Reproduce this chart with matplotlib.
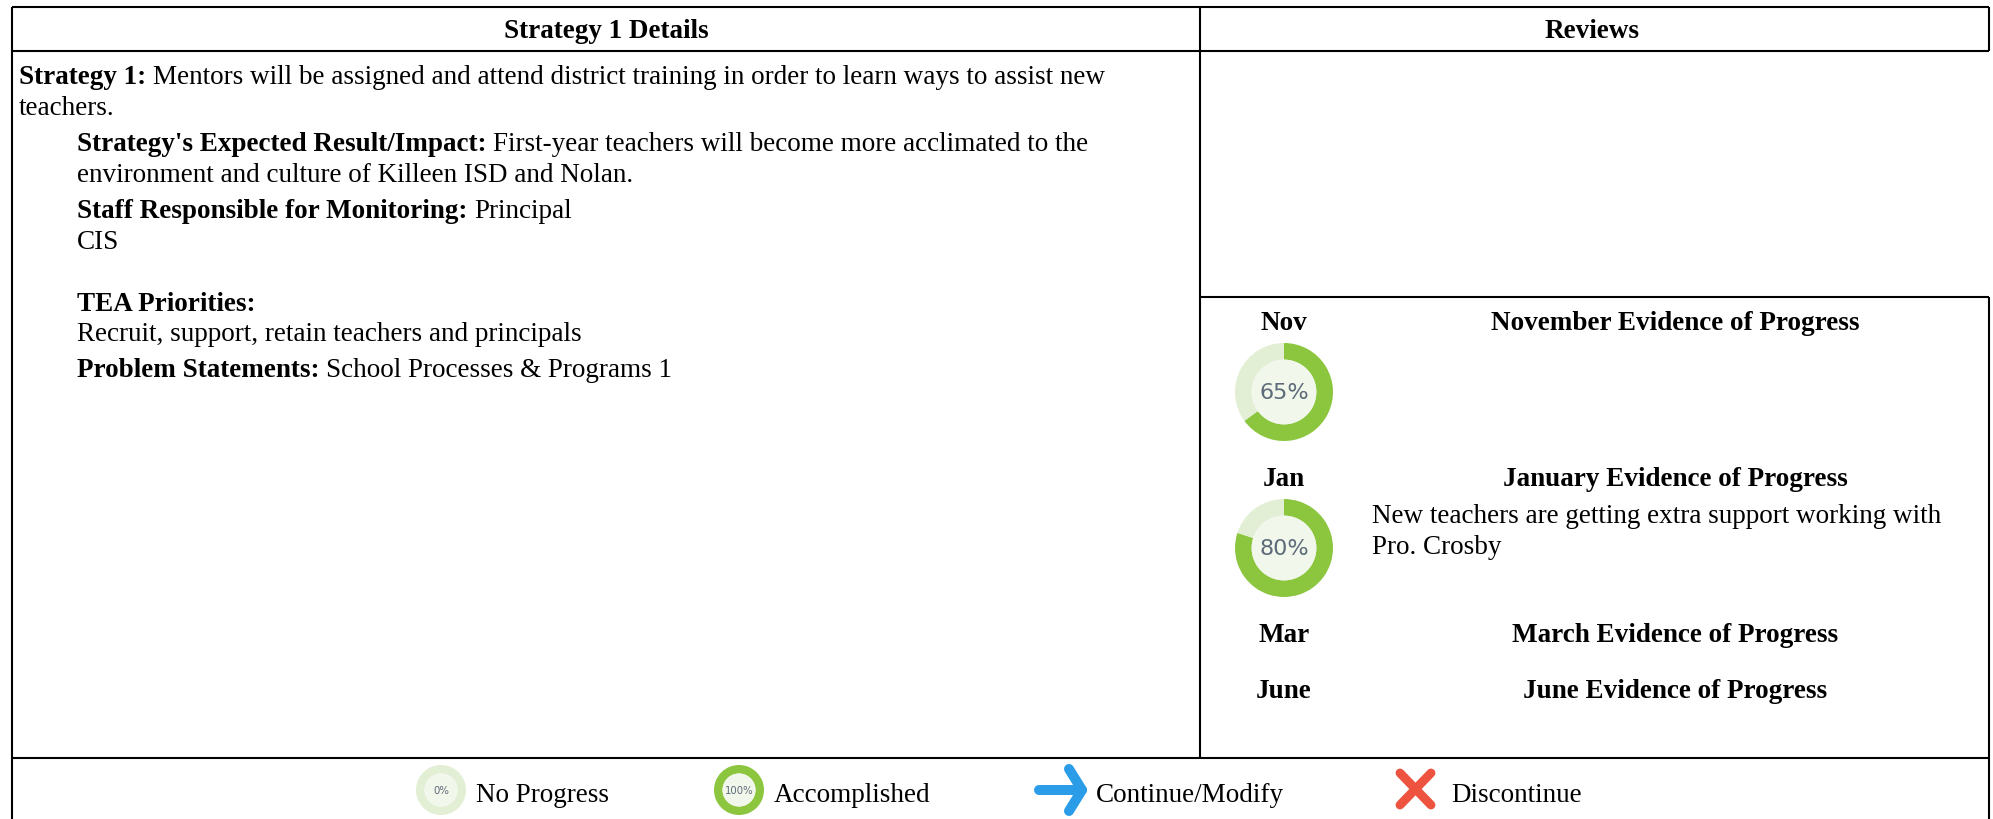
import matplotlib
matplotlib.use("Agg")
import matplotlib.pyplot as plt

plt.rcParams['font.family'] = ['Liberation Serif', 'DejaVu Serif']

W, H = 1993, 819
FS = 19.55
RIGHT = 1989

headers = ["Strategy 1 Details", "Reviews"]
months = ["Nov", "Jan", "Mar", "June"]
evidence = ["November Evidence of Progress", "January Evidence of Progress",
            "March Evidence of Progress", "June Evidence of Progress"]
progress = {"Nov": 65, "Jan": 80}
legend_pct = [0, 100]
legend_labels = ["No Progress", "Accomplished", "Continue/Modify", "Discontinue"]

# bold part, normal part, x, baseline y
left_lines = [
    ("Strategy 1:", "Mentors will be assigned and attend district training in order to learn ways to assist new", 19, 84),
    ("", "teachers.", 19, 115),
    ("Strategy's Expected Result/Impact:", "First-year teachers will become more acclimated to the", 77, 151),
    ("", "environment and culture of Killeen ISD and Nolan.", 77, 182),
    ("Staff Responsible for Monitoring:", "Principal", 77, 218),
    ("", "CIS", 77, 249),
    ("TEA Priorities:", "", 77, 311),
    ("", "Recruit, support, retain teachers and principals", 77, 341),
    ("Problem Statements:", "School Processes & Programs 1", 77, 377),
]

fig = plt.figure(figsize=(W / 100, H / 100), dpi=100)
ax = fig.add_axes([0, 0, 1, 1])
ax.set_xlim(0, W)
ax.set_ylim(H, 0)
ax.axis("off")


def line(x0, y0, x1, y1, lw=1.5):
    ax.plot([x0, x1], [y0, y1], color="black", lw=lw, solid_capstyle="butt")


def mixed(bold, normal, x, y):
    if bold:
        t = ax.text(x, y, bold, fontsize=FS, fontweight="bold", va="baseline")
        bb = t.get_window_extent(fig.canvas.get_renderer())
        x = bb.x1 + 7
    if normal:
        ax.text(x, y, normal, fontsize=FS, va="baseline")


def donut(cx, cy, r, pct, fs):
    a = fig.add_axes([(cx - r) / W, 1 - (cy + r) / H, 2 * r / W, 2 * r / H])
    a.pie([pct, 100 - pct], startangle=90, counterclock=False, radius=1,
          colors=["#8cc63f", "#e2efd5"], wedgeprops=dict(width=0.34, linewidth=0))
    a.add_patch(plt.Circle((0, 0), 0.66, color="#f1f7ea", lw=0))
    a.text(0, -0.02, "%d%%" % pct, ha="center", va="center", fontsize=fs,
           color="#5d6a7a", family="DejaVu Sans")
    a.set_xlim(-1, 1)
    a.set_ylim(-1, 1)


# table frame, the right edge has a gap beside the empty review cell
line(11.7, 6.5, RIGHT, 6.5)
line(11.7, 51, RIGHT, 51)
line(11.7, 757.5, RIGHT, 757.5)
line(11.7, 6.5, 11.7, 819)
line(RIGHT, 6.5, RIGHT, 51)
line(RIGHT, 297, RIGHT, 819)
line(1200, 6.5, 1200, 757.5)
line(1200, 297, RIGHT, 297)

ax.text(606, 31.5, headers[0], fontsize=FS, fontweight="bold", ha="center", va="center")
ax.text(1592, 31.5, headers[1], fontsize=FS, fontweight="bold", ha="center", va="center")

for b, n, x, y in left_lines:
    mixed(b, n, x, y)

month_y = [330, 486, 642, 698]
for m, e, y in zip(months, evidence, month_y):
    ax.text(1284, y, m, fontsize=FS, fontweight="bold", ha="center", va="baseline")
    ax.text(1675, y, e, fontsize=FS, fontweight="bold", ha="center", va="baseline")

ax.text(1372, 523, "New teachers are getting extra support working with", fontsize=FS, va="baseline")
ax.text(1372, 554, "Pro. Crosby", fontsize=FS, va="baseline")

donut(1284, 392, 49, progress["Nov"], 16)
donut(1284, 548, 49, progress["Jan"], 16)

# legend row
donut(441, 790, 25, legend_pct[0], 7.3)
donut(739, 790, 25, legend_pct[1], 7.3)
ax.text(476, 802, legend_labels[0], fontsize=FS, va="baseline")
ax.text(774, 802, legend_labels[1], fontsize=FS, va="baseline")
ax.text(1096, 802, legend_labels[2], fontsize=FS, va="baseline")
ax.text(1451, 802, legend_labels[3], fontsize=FS, va="baseline")

ax.plot([1039, 1082], [790, 790], color="#2b9de8", lw=7.2, solid_capstyle="round")
ax.plot([1069, 1082, 1069], [769, 790, 811], color="#2b9de8", lw=7.2,
        solid_capstyle="round", solid_joinstyle="round")
ax.plot([1400, 1431], [773, 805], color="#ee5340", lw=6.4, solid_capstyle="round")
ax.plot([1431, 1400], [773, 805], color="#ee5340", lw=6.4, solid_capstyle="round")

fig.savefig("out.png", dpi=100)
